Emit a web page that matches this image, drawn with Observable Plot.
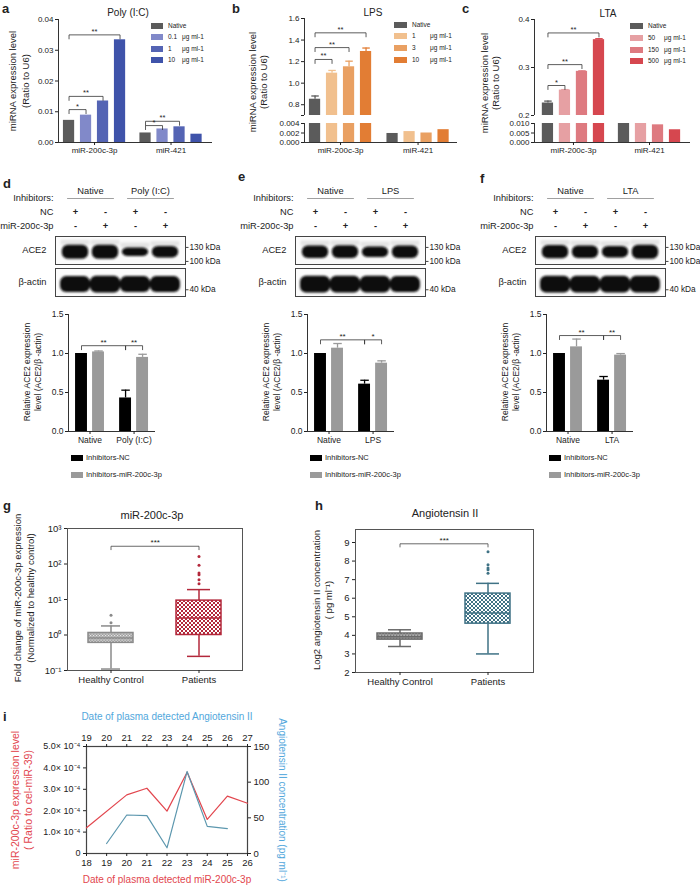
<!DOCTYPE html>
<html><head><meta charset="utf-8">
<script src="https://cdn.jsdelivr.net/npm/d3@7"></script>
<script src="https://cdn.jsdelivr.net/npm/@observablehq/plot@0.6"></script>
<style>
html,body{margin:0;padding:0;background:#fff;}
#root{position:relative;width:700px;height:890px;overflow:hidden;font-family:"Liberation Sans",Arial,sans-serif;color:#222;}
</style></head><body><div id="root"></div>
<script>
// ================= DATA =================
// a: Poly (I:C)
const polyGroups = ["miR-200c-3p", "miR-421"];
const polyDoses = ["Native", "0.1", "1", "10"];
const poly200c = [0.0072, 0.0089, 0.0135, 0.0334];
const poly421 = [0.0031, 0.0044, 0.0051, 0.0027];
const polySig = [
  {from: [0, 0], to: [0, 1], y: 0.0107, t: "*"},
  {from: [0, 0], to: [0, 2], y: 0.0150, t: "**"},
  {from: [0, 0], to: [0, 3], y: 0.0350, t: "**"},
  {from: [1, 0], to: [1, 1], y: 0.0055, t: "*"},
  {from: [1, 0], to: [1, 2], y: 0.0069, t: "**"}
];
// b: LPS
const lpsDoses = ["Native", "1", "3", "10"];
const lps200c = [0.851, 1.093, 1.152, 1.294];
const lps200cErr = [0.03, 0.025, 0.052, 0.032];
const lps421 = [0.0019, 0.0023, 0.0020, 0.0027];
const lpsSig = [
  {from: [0, 0], to: [0, 1], y: 1.22, t: "**"},
  {from: [0, 0], to: [0, 2], y: 1.33, t: "**"},
  {from: [0, 0], to: [0, 3], y: 1.467, t: "**"}
];
// c: LTA
const ltaDoses = ["Native", "50", "150", "500"];
const lta200c = [0.226, 0.253, 0.292, 0.358];
const lta200cErr = [0.004, 0.001, 0.001, 0.002];
const lta421 = [0.0105, 0.0104, 0.0093, 0.0067];
const ltaSig = [
  {from: [0, 0], to: [0, 1], y: 0.2625, t: "*"},
  {from: [0, 0], to: [0, 2], y: 0.306, t: "**"},
  {from: [0, 0], to: [0, 3], y: 0.372, t: "**"}
];
// d-f: western blots + quantification
const inhibitorSeries = ["Inhibitors-NC", "Inhibitors-miR-200c-3p"];
const ncSigns = ["+", "-", "+", "-"];
const mirSigns = ["-", "+", "-", "+"];
const blotRows = ["ACE2", "β-actin"];
const kdaMarkers = [
  {row: "ACE2", label: "130 kDa", pos: 0.22},
  {row: "ACE2", label: "100 kDa", pos: -0.78},
  {row: "β-actin", label: "40 kDa", pos: -0.52}
];
const dGroups = ["Native", "Poly (I:C)"];
const dAce2Band = [1.0, 1.0, 0.6, 0.82];
const dActinBand = [0.95, 1.0, 0.95, 0.95];
const dAce2 = [[1.0, 1.02], [0.43, 0.95]];
const dAce2Err = [[0, 0.012], [0.1, 0.04]];
const dSig = [{from: [0, 0], to: [1, 0], y: 1.10, t: "**"}, {from: [1, 0], to: [1, 1], y: 1.10, t: "**"}];

const eGroups = ["Native", "LPS"];
const eAce2Band = [0.9, 0.92, 0.75, 0.9];
const eActinBand = [1.0, 1.0, 1.0, 0.95];
const eAce2 = [[1.0, 1.068], [0.607, 0.876]];
const eAce2Err = [[0, 0.06], [0.05, 0.03]];
const eSig = [{from: [0, 0], to: [1, 0], y: 1.175, t: "**"}, {from: [1, 0], to: [1, 1], y: 1.175, t: "*"}];

const fGroups = ["Native", "LTA"];
const fAce2Band = [0.95, 0.9, 0.82, 1.0];
const fActinBand = [1.0, 1.0, 1.0, 1.0];
const fAce2 = [[1.0, 1.085], [0.658, 0.979]];
const fAce2Err = [[0, 0.1], [0.047, 0.02]];
const fSig = [{from: [0, 0], to: [1, 0], y: 1.23, t: "**"}, {from: [1, 0], to: [1, 1], y: 1.23, t: "**"}];

// g: miR-200c-3p fold change (box summary)
const boxGroups = ["Healthy Control", "Patients"];
const mirMin = [0.11, 0.25];
const mirQ1 = [0.60, 1.0];
const mirMedian = [0.82, 3.0];
const mirQ3 = [1.14, 9.3];
const mirMax = [1.8, 19];
const mirOutliers = [[2.2, 3.6], [28, 36, 50, 56, 92, 163]];
// h: log2 Angiotensin II
const angMin = [3.4, 3.0];
const angQ1 = [3.77, 4.63];
const angMedian = [3.93, 5.2];
const angQ3 = [4.1, 6.25];
const angMax = [4.3, 6.8];
const angOutliers = [[], [7.35, 7.53, 7.63, 7.8, 8.5]];
// i: time course
const mirDays = [18, 20, 21, 22, 23, 24, 25, 26];
const mirLevel = [1.2e-4, 2.74e-4, 3.05e-4, 1.98e-4, 3.8e-4, 1.59e-4, 2.68e-4, 2.35e-4];
const angDays = [20, 21, 22, 23, 24, 25, 26];
const angConc = [14, 54, 53, 8, 115, 38, 35];

// ================= HELPERS =================
const FONT = '"Liberation Sans", Arial, sans-serif';
const root = document.getElementById("root");
const INK = "#222";

function txt(s, x, y, o = {}) {
  const d = document.createElement("div");
  d.textContent = s;
  const ax = o.anchor === "start" ? "0%" : o.anchor === "end" ? "-100%" : "-50%";
  Object.assign(d.style, {
    position: "absolute", left: x + "px", top: y + "px",
    fontSize: (o.size || 9) + "px", color: o.color || INK,
    fontWeight: o.bold ? "bold" : "normal", whiteSpace: "nowrap", lineHeight: "1",
    transform: `translate(${ax},-50%)` + (o.rotate ? ` rotate(${o.rotate}deg)` : "")
  });
  root.appendChild(d);
  return d;
}
function swatch(x, y, w, h, color) {
  const d = document.createElement("div");
  Object.assign(d.style, {position: "absolute", left: x + "px", top: y + "px", width: w + "px", height: h + "px", background: color});
  root.appendChild(d);
}
function frameSVG(box, opts) {
  const {x0, x1, y0, y1, ml = 40, mr = 20, mt = 20, mb = 30} = box;
  const svg = Plot.plot({
    width: ml + (x1 - x0) + mr,
    height: mt + (y1 - y0) + mb,
    marginLeft: ml, marginRight: mr, marginTop: mt, marginBottom: mb,
    style: {fontFamily: FONT, fontSize: "8px", color: INK, background: "transparent", overflow: "visible", maxWidth: "none"},
    ...opts
  });
  Object.assign(svg.style, {position: "absolute", left: (x0 - ml) + "px", top: (y0 - mt) + "px"});
  root.appendChild(svg);
  return svg;
}
function addPatterns(svg, defs) {
  const d = d3.select(svg).insert("defs", ":first-child");
  defs.forEach(({id, bg, fg, size, cell}) => {
    const p = d.append("pattern").attr("id", id).attr("patternUnits", "userSpaceOnUse").attr("width", size).attr("height", size);
    p.append("rect").attr("width", size).attr("height", size).attr("fill", bg);
    p.append("rect").attr("width", cell).attr("height", cell).attr("fill", fg);
    p.append("rect").attr("x", size / 2).attr("y", size / 2).attr("width", cell).attr("height", cell).attr("fill", fg);
  });
}

// grouped bar chart (x = group*gap + series index, through a linear scale)
function barChart({box, groups, series, values, errs, colors, gap, hw, cap = 0.22, xDomain, yDomain, yTicks, yFmt,
                   sig = [], xAxis = true, clip = false, fontSize = 8, dropPx = 4}) {
  const rows = [];
  groups.forEach((g, gi) => series.forEach((s, si) =>
    rows.push({g, s, pos: gi * gap + si, v: values[gi][si], e: errs ? errs[gi][si] : 0})));
  const H = box.y1 - box.y0;
  const drop = (yDomain[1] - yDomain[0]) * dropPx / H;
  const P = ([gi, si]) => gi * gap + si;
  const bpts = sig.flatMap((b, i) => {
    const xa = P(b.from), xb = P(b.to);
    return [[xa, b.y - drop], [xa, b.y], [xb, b.y], [xb, b.y - drop]].map(([x, y]) => ({i, x, y}));
  });
  const eRows = rows.filter(d => d.e > 0);
  const mid = (series.length - 1) / 2;
  const centers = groups.map((g, gi) => gi * gap + mid);
  const marks = [
    Plot.rectY(rows, {x1: d => d.pos - hw, x2: d => d.pos + hw, y1: 0, y2: "v", fill: "s", clip}),
    Plot.ruleX(eRows, {x: "pos", y1: "v", y2: d => d.v + d.e, stroke: "s", strokeWidth: 1.3, clip}),
    Plot.link(eRows, {x1: d => d.pos - cap, x2: d => d.pos + cap, y1: d => d.v + d.e, y2: d => d.v + d.e, stroke: "s", strokeWidth: 1.3, clip}),
    Plot.line(bpts, {x: "x", y: "y", z: "i", stroke: "#333", strokeWidth: 0.8}),
    Plot.text(sig, {x: b => (P(b.from) + P(b.to)) / 2, y: "y", text: "t", lineAnchor: "bottom", dy: -1, fontSize: fontSize - 0.5}),
    Plot.ruleX([xDomain[0]], {stroke: "#333"}),
    Plot.axisY({ticks: yTicks, tickFormat: yFmt, tickSize: 3, tickPadding: 2, fontSize, label: null})
  ];
  if (xAxis) marks.push(
    Plot.ruleY([yDomain[0]], {stroke: "#333"}),
    Plot.axisX({ticks: centers, tickFormat: d => groups[Math.round((d - mid) / gap)], tickSize: 3, tickPadding: 2, fontSize, label: null})
  );
  const xOpt = xAxis ? {domain: xDomain} : {domain: xDomain, axis: null};
  return frameSVG(box, {x: xOpt, y: {domain: yDomain}, color: {domain: series, range: colors}, marks});
}

// blot header (treatment table)
function blotHeader({box, xDomain, groups, fontSize = 9.3}) {
  const rowsY = ["Inhibitors:", "NC", "miR-200c-3p"];
  const signs = [...ncSigns.map((t, i) => ({lane: i, row: "NC", t})), ...mirSigns.map((t, i) => ({lane: i, row: "miR-200c-3p", t}))];
  const grp = groups.map((g, gi) => ({g, c: gi * 2 + 0.5}));
  return frameSVG({...box, ml: 70, mr: 10, mt: 12, mb: 4}, {
    x: {domain: xDomain, axis: null},
    y: {type: "band", domain: rowsY, padding: 0, axis: null},
    marks: [
      Plot.axisY({tickSize: 0, tickPadding: 2, fontSize, label: null}),
      Plot.text(grp, {x: "c", y: () => "Inhibitors:", text: "g", dy: -7, fontSize}),
      Plot.link(grp, {x1: d => d.c - 0.78, x2: d => d.c + 0.78, y1: () => "Inhibitors:", y2: () => "Inhibitors:", stroke: "#888", strokeWidth: 0.8}),
      Plot.text(signs, {x: "lane", y: "row", text: "t", fontSize, fontWeight: "bold"})
    ]
  });
}

// blot image (bands drawn as rounded rects from lane intensities)
function blot({box, xDomain, ace2, actin, id}) {
  const bands = [...ace2.map((t, i) => ({row: "ACE2", lane: i, t})), ...actin.map((t, i) => ({row: "β-actin", lane: i, t}))];
  const half = d => (d.row === "ACE2" ? 0.5 : 0.6) * d.t;
  const cen = d => (d.row === "ACE2" ? -0.12 : -0.15);
  const wid = d => (d.row === "ACE2" ? 0.44 : 0.5);
  const svg = frameSVG({...box, ml: 45, mr: 55, mt: 2, mb: 2}, {
    x: {domain: xDomain, axis: null},
    y: {domain: [-1, 1], axis: null},
    fy: {domain: blotRows, paddingInner: 0.12, paddingOuter: 0, axis: "left", label: null},
    style: {fontFamily: FONT, fontSize: "9.3px", color: INK, background: "transparent", overflow: "visible", maxWidth: "none"},
    marks: [
      Plot.frame({stroke: "#444", strokeWidth: 1, fill: "#fbfbfb"}),
      Plot.rect(bands.filter(d => d.row === "ACE2"), {fy: "row", x1: d => d.lane - 0.48, x2: d => d.lane + 0.48, y1: d => cen(d) + half(d), y2: d => cen(d) + half(d) + 0.35, fill: "#c8c8c8", opacity: 0.45}),
      Plot.rect(bands, {fy: "row", x1: d => d.lane - wid(d), x2: d => d.lane + wid(d), y1: d => cen(d) - half(d), y2: d => cen(d) + half(d), fill: "#0c0c0c", rx: 6}),
      Plot.link(kdaMarkers, {fy: "row", x1: xDomain[1], x2: xDomain[1] + 0.1, y1: "pos", y2: "pos", stroke: "#444"}),
      Plot.text(kdaMarkers, {fy: "row", x: xDomain[1] + 0.13, y: "pos", text: "label", textAnchor: "start", fontSize: 8.3})
    ]
  });
  const defs = d3.select(svg).insert("defs", ":first-child");
  defs.append("filter").attr("id", "blur" + id).attr("x", "-20%").attr("y", "-50%").attr("width", "140%").attr("height", "200%")
    .append("feGaussianBlur").attr("stdDeviation", 1.1);
  svg.querySelectorAll('g[aria-label="rect"]').forEach(g => g.setAttribute("filter", `url(#blur${id})`));
  return svg;
}

// box plot from summary statistics
function boxChart({box, groups, lo, q1, med, q3, hi, outliers, looks, yOpt, yTicks, yFmt, sig, down, padIn, padOut, fontSize = 9.5}) {
  const marks = [Plot.frame({stroke: "#555"})];
  groups.forEach((g, i) => {
    const L = looks[i];
    const row = [{g, lo: lo[i], q1: q1[i], med: med[i], q3: q3[i], hi: hi[i]}];
    marks.push(
      Plot.ruleX(row, {x: "g", y1: "q3", y2: "hi", stroke: L.stroke, strokeWidth: 1.5}),
      Plot.ruleX(row, {x: "g", y1: "lo", y2: "q1", stroke: L.stroke, strokeWidth: 1.5}),
      Plot.tickY(row, {x: "g", y: "hi", inset: L.cap, stroke: L.stroke, strokeWidth: 1.5}),
      Plot.tickY(row, {x: "g", y: "lo", inset: L.cap, stroke: L.stroke, strokeWidth: 1.5}),
      Plot.barY(row, {x: "g", y1: "q1", y2: "q3", fill: `url(#${L.pattern})`, stroke: L.stroke, strokeWidth: 1.5}),
      Plot.tickY(row, {x: "g", y: "med", stroke: L.stroke, strokeWidth: 1.5}),
      Plot.dot(outliers[i].map(v => ({g, v})), {x: "g", y: "v", r: 1.5, fill: L.stroke})
    );
  });
  // half the distance between the two band centres, in pixels
  const step = (box.x1 - box.x0) / (groups.length - padIn + 2 * padOut);
  const bp = [[groups[0], down(sig.y)], [groups[0], sig.y], [groups[1], sig.y], [groups[1], down(sig.y)]].map(([g, y]) => ({g, y}));
  marks.push(
    Plot.line(bp, {x: "g", y: "y", stroke: "#444", strokeWidth: 0.8}),
    Plot.text([sig], {x: () => groups[0], y: "y", text: "t", dx: step / 2, lineAnchor: "bottom", dy: -1, fontSize: 8}),
    Plot.axisY({ticks: yTicks, tickFormat: yFmt, tickSize: 3, tickPadding: 3, fontSize, label: null}),
    Plot.axisX({tickSize: 3, tickPadding: 3, fontSize, label: null})
  );
  return frameSVG({...box, ml: 40, mr: 10, mt: 10, mb: 25}, {
    x: {type: "band", domain: groups, paddingInner: padIn, paddingOuter: padOut},
    y: yOpt, marks
  });
}

// ================= PANEL a / b / c =================
const legendA = (items, x, tops, w, tx, ux) => items.forEach((it, k) => {
  swatch(x, tops[k], w, 6, it.color);
  txt(it.label, tx, tops[k] + 3, {anchor: "start", size: 6.5});
  if (k > 0) txt("μg ml-1", ux, tops[k] + 3, {anchor: "start", size: 6.5});
});

const polyColors = ["#5b5b5b", "#8189c9", "#5464b4", "#3f53aa"];
txt("a", 2, 8, {anchor: "start", size: 13, bold: true});
txt("Poly (I:C)", 128, 13, {size: 10});
txt("miRNA expression level", 13, 81, {rotate: -90, size: 9.5});
txt("(Ratio to U6)", 26, 81, {rotate: -90, size: 9.5});
barChart({box: {x0: 58, x1: 212, y0: 19, y1: 142}, groups: polyGroups, series: polyDoses, values: [poly200c, poly421],
  colors: polyColors, gap: 4.5, hw: 0.33, xDomain: [-0.62, 8.44], yDomain: [0, 0.04], yTicks: [0, 0.01, 0.02, 0.03, 0.04],
  yFmt: d => d.toFixed(2), sig: polySig});
legendA(polyDoses.map((s, k) => ({label: s, color: polyColors[k]})), 151, [23, 33.5, 45.5, 57], 12, 168, 182);

const lpsColors = ["#5b5b5b", "#f1c08e", "#e9a062", "#e27d34"];
txt("b", 232, 8, {anchor: "start", size: 13, bold: true});
txt("LPS", 373, 13, {size: 10});
txt("miRNA expression level", 253, 82, {rotate: -90, size: 9.5});
txt("(Ratio to U6)", 264, 82, {rotate: -90, size: 9.5});
barChart({box: {x0: 304, x1: 457, y0: 18, y1: 115}, groups: polyGroups, series: lpsDoses, values: [lps200c, lps421],
  errs: [lps200cErr, [0, 0, 0, 0]], colors: lpsColors, gap: 4.56, hw: 0.33, xDomain: [-0.62, 8.38], yDomain: [0.7, 1.6],
  yTicks: [0.7, 0.8, 1.0, 1.2, 1.4, 1.6], yFmt: d => (Math.abs(d - 0.7) < 1e-9 ? "" : d.toFixed(1)), sig: lpsSig, xAxis: false, clip: true});
barChart({box: {x0: 304, x1: 457, y0: 123, y1: 142}, groups: polyGroups, series: lpsDoses, values: [lps200c, lps421],
  colors: lpsColors, gap: 4.56, hw: 0.33, xDomain: [-0.62, 8.38], yDomain: [0, 0.004],
  yTicks: [0, 0.002, 0.004], yFmt: d => d.toFixed(3), clip: true});
legendA(lpsDoses.map((s, k) => ({label: s, color: lpsColors[k]})), 394, [22, 33, 45, 57], 13, 412, 430);

const ltaColors = ["#5b5b5b", "#e6a0a3", "#de7a80", "#d6474f"];
txt("c", 462, 8, {anchor: "start", size: 13, bold: true});
txt("LTA", 608, 14, {size: 10});
txt("miRNA expression level", 485, 83, {rotate: -90, size: 9.5});
txt("(Ratio to U6)", 496, 83, {rotate: -90, size: 9.5});
barChart({box: {x0: 534, x1: 690, y0: 19, y1: 115}, groups: polyGroups, series: ltaDoses, values: [lta200c, lta421],
  errs: [lta200cErr, [0, 0, 0, 0]], colors: ltaColors, gap: 4.47, hw: 0.33, xDomain: [-0.79, 8.38], yDomain: [0.2, 0.4],
  yTicks: [0.2, 0.3, 0.4], yFmt: d => d.toFixed(1), sig: ltaSig, xAxis: false, clip: true});
barChart({box: {x0: 534, x1: 690, y0: 123, y1: 142}, groups: polyGroups, series: ltaDoses, values: [lta200c, lta421],
  colors: ltaColors, gap: 4.47, hw: 0.33, xDomain: [-0.79, 8.38], yDomain: [0, 0.01],
  yTicks: [0, 0.005, 0.01], yFmt: d => d.toFixed(3), clip: true});
legendA(ltaDoses.map((s, k) => ({label: s, color: ltaColors[k]})), 630, [23, 35, 47, 58], 13, 648, 664);

// ================= PANEL d / e / f =================
const laneDomain = [-0.667, 3.667];
const inhColors = ["#000000", "#9a9a9a"];
[
  {letter: "d", lx: 3, ly: 183, off: 0, boff: 0, groups: dGroups, ace2: dAce2Band, actin: dActinBand, vals: dAce2, errs: dAce2Err, sig: dSig},
  {letter: "e", lx: 238, ly: 176, off: 240, boff: 239, groups: eGroups, ace2: eAce2Band, actin: eActinBand, vals: eAce2, errs: eAce2Err, sig: eSig},
  {letter: "f", lx: 480, ly: 178, off: 480, boff: 478, groups: fGroups, ace2: fAce2Band, actin: fActinBand, vals: fAce2, errs: fAce2Err, sig: fSig}
].forEach((P, k) => {
  txt(P.letter, P.lx, P.ly, {anchor: "start", size: 13, bold: true});
  blotHeader({box: {x0: 55 + P.off, x1: 185 + P.off, y0: 189.75, y1: 233.25}, xDomain: laneDomain, groups: P.groups});
  blot({box: {x0: 55 + P.off, x1: 185 + P.off, y0: 236, y1: 297}, xDomain: laneDomain, ace2: P.ace2, actin: P.actin, id: P.letter});
  barChart({box: {x0: 68 + P.boff, x1: 155 + P.boff, y0: 314, y1: 431}, groups: P.groups, series: inhibitorSeries,
    values: P.vals, errs: P.errs, colors: inhColors, gap: 2.59, hw: 0.35, cap: 0.25, xDomain: [-0.765, 4.35], yDomain: [0, 1.5],
    yTicks: [0, 0.5, 1.0, 1.5], yFmt: d => d.toFixed(1), sig: P.sig, fontSize: 8.5, dropPx: 4});
  txt("Relative ACE2 expression", 27 + P.boff, 372, {rotate: -90, size: 8.5});
  txt("level (ACE2/β -actin)", 37.5 + P.boff, 372, {rotate: -90, size: 8.5});
  inhibitorSeries.forEach((s, j) => {
    swatch(71 + P.boff, 455 + j * 17, 12, 6, inhColors[j]);
    txt(s, 86 + P.boff, 458 + j * 17, {anchor: "start", size: 7.5});
  });
});

// ================= PANEL g =================
const sup = {"-1": "⁻¹", "0": "⁰", "1": "¹", "2": "²", "3": "³"};
txt("g", 3, 505, {anchor: "start", size: 13, bold: true});
txt("miR-200c-3p", 152, 515, {size: 11});
txt("Fold change of miR-200c-3p expression", 18, 598, {rotate: -90, size: 9.5});
txt("(Normalized to healthy control)", 31, 598, {rotate: -90, size: 9.5});
const gSvg = boxChart({box: {x0: 67, x1: 242, y0: 528, y1: 670}, groups: boxGroups, lo: mirMin, q1: mirQ1, med: mirMedian, q3: mirQ3, hi: mirMax,
  outliers: mirOutliers, looks: [{stroke: "#8a8a8a", pattern: "pGrayG", cap: 13}, {stroke: "#b3283b", pattern: "pRedG", cap: 11}],
  yOpt: {type: "log", domain: [0.1, 1000]}, yTicks: [0.1, 1, 10, 100, 1000], yFmt: d => "10" + sup[String(Math.round(Math.log10(d)))],
  sig: {y: 316, t: "***"}, down: y => y / 1.25, padIn: 0.49, padOut: 0.234});
addPatterns(gSvg, [{id: "pGrayG", bg: "#a4a4a4", fg: "#e6e6e6", size: 3, cell: 1.2}, {id: "pRedG", bg: "#b3283b", fg: "#ffffff", size: 4, cell: 2}]);

// ================= PANEL h =================
txt("h", 315, 505, {anchor: "start", size: 13, bold: true});
txt("Angiotensin II", 445, 513, {size: 11});
txt("Log2 angiotensin II concentration", 317, 600, {rotate: -90, size: 9.5});
txt("( pg ml⁻¹)", 329, 600, {rotate: -90, size: 9.5});
const hSvg = boxChart({box: {x0: 355, x1: 533, y0: 529, y1: 672}, groups: boxGroups, lo: angMin, q1: angQ1, med: angMedian, q3: angQ3, hi: angMax,
  outliers: angOutliers, looks: [{stroke: "#6a6a6a", pattern: "pGrayH", cap: 11}, {stroke: "#3f7285", pattern: "pTealH", cap: 11}],
  yOpt: {domain: [2, 9.7]}, yTicks: [2, 3, 4, 5, 6, 7, 8, 9], yFmt: d => String(d),
  sig: {y: 8.93, t: "***"}, down: y => y - 0.17, padIn: 0.486, padOut: 0.249});
addPatterns(hSvg, [{id: "pGrayH", bg: "#7a7a7a", fg: "#dcdcdc", size: 3, cell: 1.2}, {id: "pTealH", bg: "#3f7285", fg: "#ffffff", size: 4, cell: 2}]);

// ================= PANEL i =================
const RED = "#e2464e", BLUE = "#5c97ae", BLUETXT = "#52a7dc";
txt("i", 3, 716, {anchor: "start", size: 13, bold: true});
txt("Date of plasma detected Angiotensin II", 167, 717, {size: 10, color: BLUETXT});
txt("Date of plasma detected miR-200c-3p", 167, 880, {size: 10, color: RED});
txt("miR-200c-3p expression level", 15, 800, {rotate: -90, size: 10.5, color: RED});
txt("( Ratio to cel-miR-39)", 28, 800, {rotate: -90, size: 10.5, color: RED});
txt("Angiotensin II concentration (pg ml⁻¹)", 282, 800, {rotate: 90, size: 10, color: BLUETXT});
const iBox = {x0: 86, x1: 247, y0: 746, y1: 853, ml: 70, mr: 40, mt: 25, mb: 25};
frameSVG(iBox, {
  x: {domain: [18, 26]}, y: {domain: [0, 5e-4]},
  marks: [
    Plot.frame({stroke: "#444", strokeWidth: 1.2}),
    Plot.line(mirDays.map((d, i) => ({d, v: mirLevel[i]})), {x: "d", y: "v", stroke: RED, strokeWidth: 1.2}),
    Plot.axisY({ticks: [0, 1e-4, 2e-4, 3e-4, 4e-4, 5e-4], tickFormat: d => d === 0 ? "0" : (d * 1e4).toFixed(1) + "× 10⁻⁴", tickSize: 3, tickPadding: 3, fontSize: 9, label: null}),
    Plot.axisX({ticks: d3.range(18, 27), tickFormat: d => String(d), tickSize: 3, tickPadding: 3, fontSize: 9.5, label: null})
  ]
});
frameSVG(iBox, {
  x: {domain: [19, 27]}, y: {domain: [0, 150]},
  marks: [
    Plot.line(angDays.map((d, i) => ({d, v: angConc[i]})), {x: "d", y: "v", stroke: BLUE, strokeWidth: 1.2}),
    Plot.axisY({anchor: "right", ticks: [0, 50, 100, 150], tickSize: 3, tickPadding: 3, fontSize: 9.5, label: null}),
    Plot.axisX({anchor: "top", ticks: d3.range(19, 28), tickFormat: d => String(d), tickSize: 3, tickPadding: 3, fontSize: 9.5, label: null})
  ]
});
</script></body></html>
